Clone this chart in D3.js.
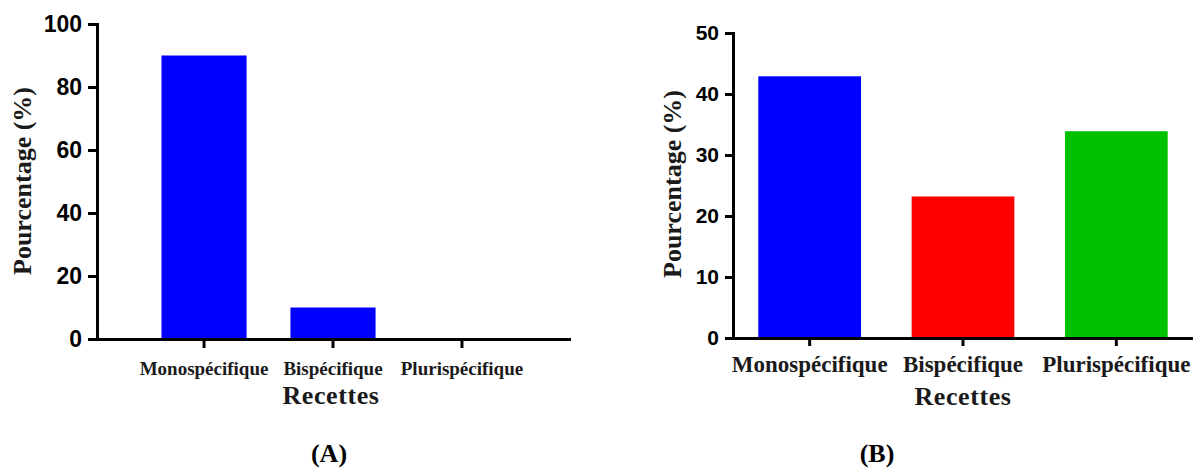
<!DOCTYPE html>
<html>
<head>
<meta charset="utf-8">
<script src="https://cdn.jsdelivr.net/npm/d3@7"></script>
<style>
  html, body { margin: 0; padding: 0; background: #fff; }
  svg { display: block; }
</style>
</head>
<body>
<svg id="chart" width="1193" height="468"></svg>
<script>
const categories = ["Monospécifique", "Bispécifique", "Plurispécifique"];
const valuesA = [90, 10, 0];
const valuesB = [42.9, 23.2, 33.9];
const ticksA = [0, 20, 40, 60, 80, 100];
const ticksB = [0, 10, 20, 30, 40, 50];
const colorsA = ["#0000ff", "#0000ff", "#0000ff"];
const colorsB = ["#0000ff", "#ff0000", "#00c000"];
const xTitle = "Recettes";
const yTitle = "Pourcentage (%)";
const panelLabels = ["(A)", "(B)"];

const svg = d3.select("#chart");

function panel(cfg) {
  const g = svg.append("g");
  const x = d3.scaleBand().domain(categories).range(cfg.xRange)
    .paddingInner(cfg.padIn).paddingOuter(cfg.padOut);
  const y = d3.scaleLinear().domain([0, cfg.yMax]).range(cfg.yRange);

  g.selectAll("rect.bar").data(cfg.values).join("rect")
    .attr("class", "bar")
    .attr("x", (d, i) => x(categories[i]))
    .attr("width", x.bandwidth())
    .attr("y", d => y(d))
    .attr("height", d => y(0) - y(d))
    .attr("fill", (d, i) => cfg.colors[i]);

  // y axis
  const ya = g.append("g").attr("transform", `translate(${cfg.xRange[0]},0)`)
    .call(d3.axisLeft(y).tickValues(cfg.ticks).tickSize(cfg.tick).tickSizeOuter(0).tickPadding(6));
  ya.select(".domain").attr("stroke", "#000").attr("stroke-width", 3).attr("stroke-linecap", "square");
  ya.selectAll(".tick line").attr("stroke", "#000").attr("stroke-width", 3);
  ya.selectAll(".tick text")
    .attr("font-family", "'Liberation Sans', Arial, sans-serif")
    .attr("font-weight", "bold").attr("font-size", cfg.tickFont).attr("fill", "#000");

  // x axis
  const xa = g.append("g").attr("transform", `translate(0,${cfg.yRange[0]})`)
    .call(d3.axisBottom(x).tickSize(cfg.tick).tickSizeOuter(0).tickPadding(cfg.catPad));
  xa.select(".domain").attr("stroke", "#000").attr("stroke-width", 3).attr("stroke-linecap", "square");
  xa.selectAll(".tick line").attr("stroke", "#000").attr("stroke-width", 3);
  xa.selectAll(".tick text")
    .attr("font-family", "'Liberation Serif', 'Times New Roman', serif")
    .attr("font-weight", "bold").attr("font-size", cfg.catFont).attr("fill", "#1a1a1a")
    .attr("dy", "0.71em");

  // x title
  g.append("text").text(xTitle)
    .attr("x", cfg.xTitleX).attr("y", cfg.xTitleY)
    .attr("text-anchor", "middle")
    .attr("font-family", "'Liberation Serif', 'Times New Roman', serif")
    .attr("font-weight", "bold").attr("font-size", cfg.titleFont).attr("fill", "#1a1a1a")
    .attr("letter-spacing", 0.6);

  // y title
  g.append("text").text(yTitle)
    .attr("transform", `translate(${cfg.yTitleX},${cfg.yTitleY}) rotate(-90)`)
    .attr("text-anchor", "middle")
    .attr("font-family", "'Liberation Serif', 'Times New Roman', serif")
    .attr("font-weight", "bold").attr("font-size", cfg.titleFont).attr("fill", "#1a1a1a");

  // panel label
  g.append("text").text(cfg.label)
    .attr("x", cfg.labelX).attr("y", 462)
    .attr("text-anchor", "middle")
    .attr("font-family", "'Liberation Serif', 'Times New Roman', serif")
    .attr("font-weight", "bold").attr("font-size", 26).attr("fill", "#000");
}

panel({
  values: valuesA, colors: colorsA, ticks: ticksA, yMax: 100,
  xRange: [97, 569], yRange: [339, 24], padIn: 0.34, padOut: 0.5,
  tick: 9, tickFont: 23, catFont: 19, catPad: 14, titleFont: 26,
  xTitleX: 331, xTitleY: 404, yTitleX: 31, yTitleY: 181,
  label: panelLabels[0], labelX: 329
});

panel({
  values: valuesB, colors: colorsB, ticks: ticksB, yMax: 50,
  xRange: [733, 1193], yRange: [338, 33], padIn: 0.33, padOut: 0.165,
  tick: 8, tickFont: 21, catFont: 23, catPad: 10, titleFont: 26,
  xTitleX: 963, xTitleY: 405, yTitleX: 681, yTitleY: 184,
  label: panelLabels[1], labelX: 877
});
</script>
</body>
</html>
